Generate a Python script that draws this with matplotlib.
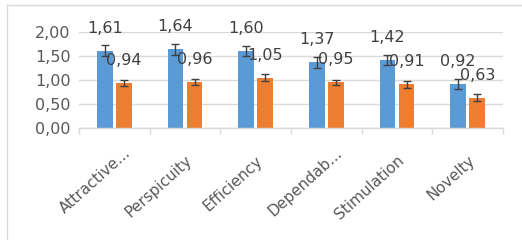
import numpy as np
import matplotlib.pyplot as plt
import matplotlib.transforms as mtransforms
from matplotlib.lines import Line2D

categories = ['Attractive...', 'Perspicuity', 'Efficiency', 'Dependab...', 'Stimulation', 'Novelty']
blue_vals = [1.61, 1.64, 1.60, 1.37, 1.42, 0.92]
orange_vals = [0.94, 0.96, 1.05, 0.95, 0.91, 0.63]
blue_err = [0.11, 0.11, 0.11, 0.11, 0.10, 0.11]
orange_err = [0.06, 0.06, 0.07, 0.06, 0.07, 0.07]

blue = '#5B9BD5'
orange = '#ED7D31'
txt = '#595959'
grid = '#D9D9D9'

plt.rcParams['font.family'] = ['DejaVu Sans']

fig = plt.figure(figsize=(5.22, 2.40), dpi=100)
ax = fig.add_axes([79 / 522, 1 - 128 / 240, 424 / 522, 96 / 240])

x = np.arange(len(categories))
w = 0.225
off = 0.135
ax.bar(x - off, blue_vals, w, color=blue, zorder=2)
ax.bar(x + off, orange_vals, w, color=orange, zorder=2)
ax.errorbar(x - off, blue_vals, yerr=blue_err, fmt='none', ecolor='#404040',
            elinewidth=1, capsize=3, capthick=1, zorder=3)
ax.errorbar(x + off, orange_vals, yerr=orange_err, fmt='none', ecolor='#404040',
            elinewidth=1, capsize=3, capthick=1, zorder=3)

for xi, v in zip(x - off, blue_vals):
    ax.annotate(f'{v:.2f}'.replace('.', ','), (xi, v), xytext=(0, 13),
                textcoords='offset points', ha='center', va='baseline',
                fontsize=11.5, color='#404040', zorder=4, annotation_clip=False)
for xi, v in zip(x + off, orange_vals):
    ax.annotate(f'{v:.2f}'.replace('.', ','), (xi, v), xytext=(0, 13),
                textcoords='offset points', ha='center', va='baseline',
                fontsize=11.5, color='#404040', zorder=4, annotation_clip=False)

ax.set_xlim(-0.5, len(categories) - 0.5)
ax.set_ylim(0, 2.0)
ax.set_yticks(np.arange(0, 2.01, 0.5))
ax.set_yticklabels([f'{t:.2f}'.replace('.', ',') for t in np.arange(0, 2.01, 0.5)])
ax.yaxis.grid(True, color=grid, linewidth=1, zorder=0)
ax.tick_params(axis='y', length=0, labelsize=11.5, colors=txt, pad=6)

for s in ['top', 'right', 'left']:
    ax.spines[s].set_visible(False)
ax.spines['bottom'].set_color(grid)
ax.spines['bottom'].set_linewidth(1)

# category boundary ticks
ax.set_xticks(np.arange(-0.5, len(categories), 1.0), minor=True)
ax.tick_params(axis='x', which='minor', length=4, color=grid, width=1)
ax.set_xticks(x)
ax.tick_params(axis='x', which='major', length=0)
ax.set_xticklabels(categories, rotation=42, ha='right', va='baseline',
                   rotation_mode='anchor', fontsize=11, color=txt)
ang = np.deg2rad(42)
for lab in ax.get_xticklabels():
    dx, dy = 8, -29
    if lab.get_text().endswith('...'):
        dx += 12 * np.cos(ang)
        dy += 12 * np.sin(ang)
    lab.set_transform(lab.get_transform() +
                      mtransforms.ScaledTranslation(dx / 100, dy / 100, fig.dpi_scale_trans))

# chart area border (top and left edges visible)
fig.add_artist(Line2D([7 / 522, 1], [1 - 5 / 240, 1 - 5 / 240], color=grid, lw=1, transform=fig.transFigure))
fig.add_artist(Line2D([7 / 522, 7 / 522], [0, 1 - 5 / 240], color=grid, lw=1, transform=fig.transFigure))

fig.savefig('out.png', dpi=100)
